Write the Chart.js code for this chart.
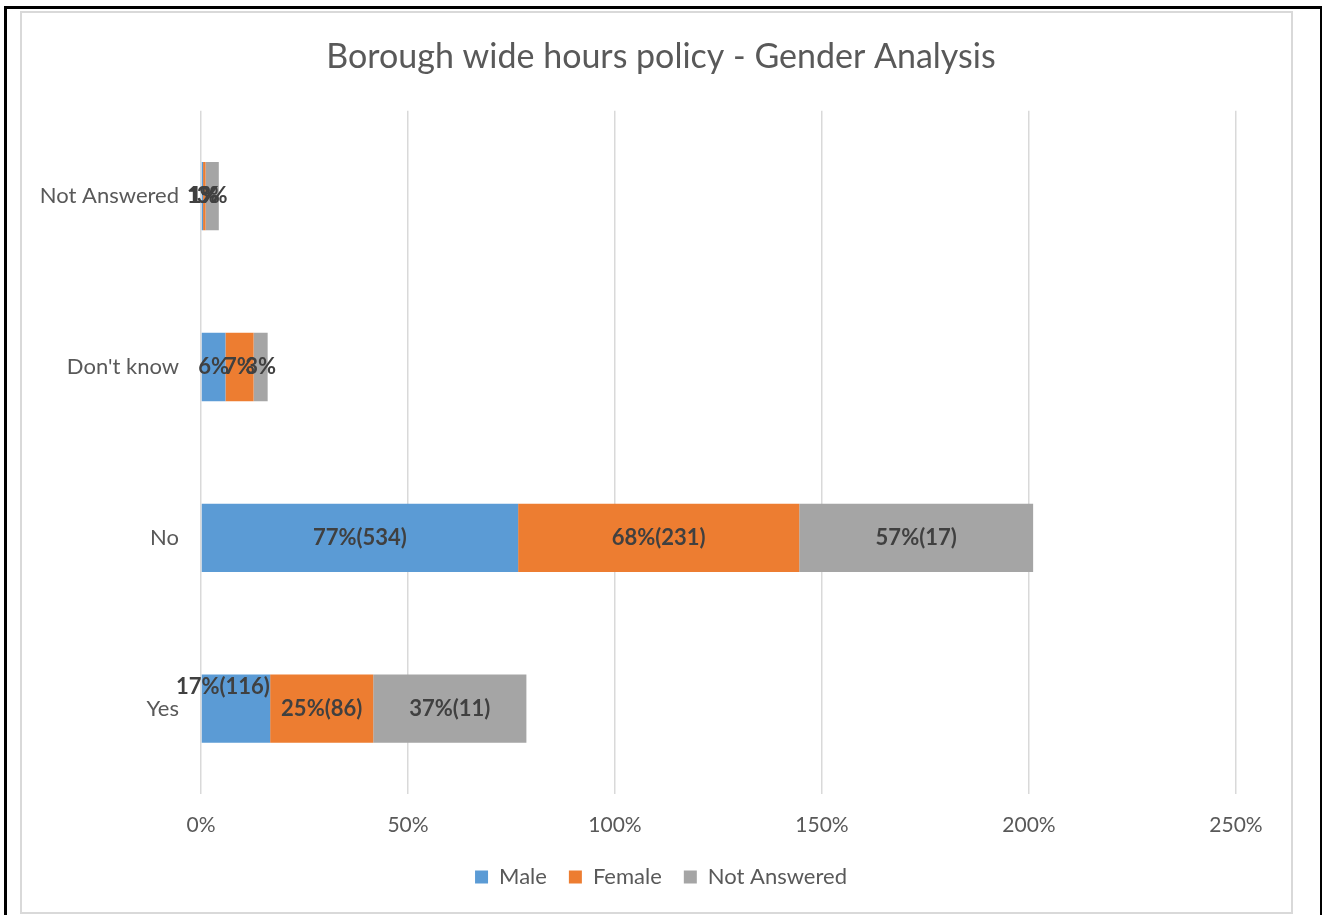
<!DOCTYPE html>
<html>
<head>
<meta charset="utf-8">
<script src="https://cdn.jsdelivr.net/npm/chart.js@4.4.1/dist/chart.umd.min.js"></script>
<style>
  html, body { margin: 0; padding: 0; background: #ffffff; }
  body { width: 1322px; height: 915px; position: relative; overflow: hidden; }
  #wrap { position: absolute; left: 0; top: 0; width: 1322px; height: 915px; }
  .frame-black { position: absolute; left: 4px; top: 6px; width: 1313px; height: 920px;
    border-left: 3px solid #000; border-top: 3px solid #000; border-right: 3px solid #000; box-sizing: content-box; pointer-events: none; }
  .frame-gray { position: absolute; left: 20px; top: 11px; width: 1269px; height: 899px;
    border: 2.5px solid #D9D9D9; pointer-events: none; }
</style>
</head>
<body>
<div id="wrap"><canvas id="c" width="1322" height="915"></canvas></div>
<div class="frame-black"></div>
<div class="frame-gray"></div>
<script>
// ---- data ----
const categories = ["Not Answered", "Don't know", "No", "Yes"];
const seriesNames = ["Male", "Female", "Not Answered"];
const maleValues = [0.5, 5.9, 76.6, 16.7];
const femaleValues = [0.6, 6.8, 67.9, 24.9];
const notAnsweredValues = [3.2, 3.4, 56.5, 37.0];
const maleLabels = ["1%", "6%", "77%(534)", "17%(116)"];
const femaleLabels = ["1%", "7%", "68%(231)", "25%(86)"];
const notAnsweredLabels = ["3%", "3%", "57%(17)", "37%(11)"];
const tickValues = [0, 50, 100, 150, 200, 250];

const colors = ["#5B9BD5", "#ED7D31", "#A5A5A5"];
const allValues = [maleValues, femaleValues, notAnsweredValues];
const allLabels = [maleLabels, femaleLabels, notAnsweredLabels];

const FONT = "Lato, 'Open Sans', sans-serif";

const barLabelPlugin = {
  id: 'barLabels',
  afterDatasetsDraw(chart, args, opts) {
    const ctx = chart.ctx;
    ctx.save();
    ctx.font = "bold 22px " + FONT;
    ctx.fillStyle = "#404040";
    ctx.textAlign = "center";
    ctx.textBaseline = "middle";
    chart.data.datasets.forEach((ds, di) => {
      const meta = chart.getDatasetMeta(di);
      meta.data.forEach((el, i) => {
        const p = el.getProps(['x', 'y', 'base'], true);
        let cx = (p.x + p.base) / 2;
        let cy = p.y;
        const off = (opts.offsets || []).find(o => o.dataset === di && o.index === i);
        if (off) { cx += off.dx; cy += off.dy; }
        ctx.fillText(ds.labelsText[i], cx, cy);
      });
    });
    ctx.restore();
  }
};

new Chart(document.getElementById('c'), {
  type: 'bar',
  data: {
    labels: categories,
    datasets: seriesNames.map((name, k) => ({
      label: name,
      data: allValues[k],
      labelsText: allLabels[k],
      backgroundColor: colors[k],
      borderWidth: 0,
      categoryPercentage: 1.0,
      barPercentage: 0.4
    }))
  },
  options: {
    indexAxis: 'y',
    responsive: false,
    animation: false,
    devicePixelRatio: 1,
    layout: { padding: { left: 0, right: 0, top: 0, bottom: 17 } },
    scales: {
      x: {
        stacked: true,
        min: 0, max: 250,
        afterBuildTicks(scale) { scale.ticks = tickValues.map(v => ({ value: v })); },
        afterFit(scale) { scale.height = 50; },
        grid: { color: '#D9D9D9', lineWidth: 1.5, drawTicks: false },
        border: { display: false },
        ticks: {
          padding: 19,
          color: '#595959',
          font: { family: FONT, size: 21 },
          callback: v => v + '%'
        }
      },
      y: {
        stacked: true,
        afterFit(scale) { scale.width = 201; },
        grid: { display: false, drawTicks: false },
        border: { display: false },
        ticks: {
          padding: 22,
          color: '#595959',
          font: { family: FONT, size: 22 }
        }
      },
      yRight: {
        type: 'category',
        position: 'right',
        display: true,
        afterFit(scale) { scale.width = 86; },
        grid: { display: false, drawTicks: false },
        border: { display: false },
        ticks: { display: false }
      }
    },
    plugins: {
      title: {
        display: true,
        text: 'Borough wide hours policy - Gender Analysis',
        color: '#595959',
        font: { family: FONT, size: 34, weight: 'normal' },
        padding: { top: 37, bottom: 33 }
      },
      legend: {
        display: true,
        position: 'bottom',
        labels: {
          color: '#595959',
          font: { family: FONT, size: 22 },
          boxWidth: 13,
          boxHeight: 13,
          padding: 22
        }
      },
      tooltip: { enabled: false },
      barLabels: { offsets: [{ dataset: 0, index: 3, dx: -13, dy: -22 }] }
    }
  },
  plugins: [barLabelPlugin]
});
</script>
</body>
</html>
